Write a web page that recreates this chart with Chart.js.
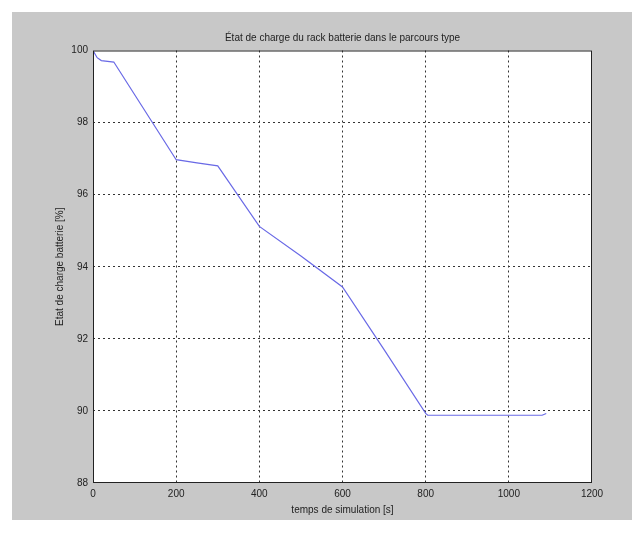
<!DOCTYPE html>
<html>
<head>
<meta charset="utf-8">
<script src="https://cdn.jsdelivr.net/npm/chart.js@4/dist/chart.umd.min.js"></script>
<style>
  html, body { margin: 0; padding: 0; background: #fff; }
  #wrap { width: 644px; height: 533px; }
</style>
</head>
<body>
<div id="wrap"><canvas id="socChart" width="644" height="533"></canvas></div>
<script>
// temps (s) et état de charge (%)
const timeSec = [0, 10, 20, 50, 200, 250, 300, 400, 500, 600, 700, 800, 805, 1080, 1090];
const socPct = [100, 99.8, 99.72, 99.68, 96.97, 96.88, 96.8, 95.12, 94.3, 93.44, 91.7, 89.93, 89.88, 89.88, 89.93];

const xTicks = [0, 200, 400, 600, 800, 1000, 1200];
const yTicks = [88, 90, 92, 94, 96, 98, 100];

const chartTitle = "État de charge du rack batterie dans le parcours type";
const xTitle = "temps de simulation [s]";
const yTitle = "Etat de charge batterie [%]";

// fond gris façon figure matlab + cadre noir autour du graphe
const figureBox = {
    id: 'figureBox',
    beforeDraw(chart) {
        const ctx = chart.ctx;
        ctx.save();
        ctx.fillStyle = '#c8c8c8';
        ctx.fillRect(12, 12, 620, 508);
        const a = chart.chartArea;
        ctx.fillStyle = '#ffffff';
        ctx.fillRect(a.left, a.top, a.right - a.left, a.bottom - a.top);
        ctx.restore();
    },
    afterDraw(chart) {
        const ctx = chart.ctx;
        const a = chart.chartArea;
        ctx.save();
        ctx.strokeStyle = '#222';
        ctx.lineWidth = 1;
        ctx.strokeRect(a.left + 0.5, a.top + 0.5, a.right - a.left - 1, a.bottom - a.top - 1);
        ctx.restore();
    }
};

const font = { family: "'Liberation Sans', Arial, sans-serif", size: 10, weight: 'normal' };

new Chart(document.getElementById('socChart').getContext('2d'), {
    type: 'line',
    data: {
        datasets: [{
            data: timeSec.map((t, i) => ({ x: t, y: socPct[i] })),
            borderColor: '#6a6ae6',
            borderWidth: 1.2,
            pointRadius: 0,
            tension: 0,
            fill: false
        }]
    },
    options: {
        responsive: false,
        animation: false,
        layout: { padding: { left: 12, right: 52, top: 12, bottom: 13 } },
        plugins: {
            legend: { display: false },
            tooltip: { enabled: false },
            title: {
                display: true,
                text: chartTitle,
                fullSize: false,
                color: '#222',
                font: font,
                padding: { top: 20, bottom: 6.5 }
            }
        },
        scales: {
            x: {
                type: 'linear',
                min: 0,
                max: 1200,
                afterFit: s => { s.height = 37; },
                afterBuildTicks: s => { s.ticks = xTicks.map(v => ({ value: v })); },
                ticks: { color: '#222', font: font, padding: 5, maxRotation: 0, callback: v => String(v) },
                grid: {
                    color: c => (c.tick.value === 0 || c.tick.value === 1200) ? 'rgba(0,0,0,0)' : '#333',
                    drawTicks: false
                },
                border: { display: false, dash: [2, 3] },
                title: { display: true, text: xTitle, color: '#222', font: font, padding: { top: 0, bottom: 4 } }
            },
            y: {
                min: 88,
                max: 100,
                afterFit: s => { s.width = 81; },
                afterBuildTicks: s => { s.ticks = yTicks.map(v => ({ value: v })); },
                ticks: { color: '#222', font: font, padding: 5, callback: v => String(v) },
                grid: {
                    color: c => (c.tick.value === 88 || c.tick.value === 100) ? 'rgba(0,0,0,0)' : '#333',
                    drawTicks: false
                },
                border: { display: false, dash: [2, 3] },
                title: { display: true, text: yTitle, color: '#222', font: font, padding: { top: 42, bottom: 0 } }
            }
        }
    },
    plugins: [figureBox]
});
</script>
</body>
</html>
